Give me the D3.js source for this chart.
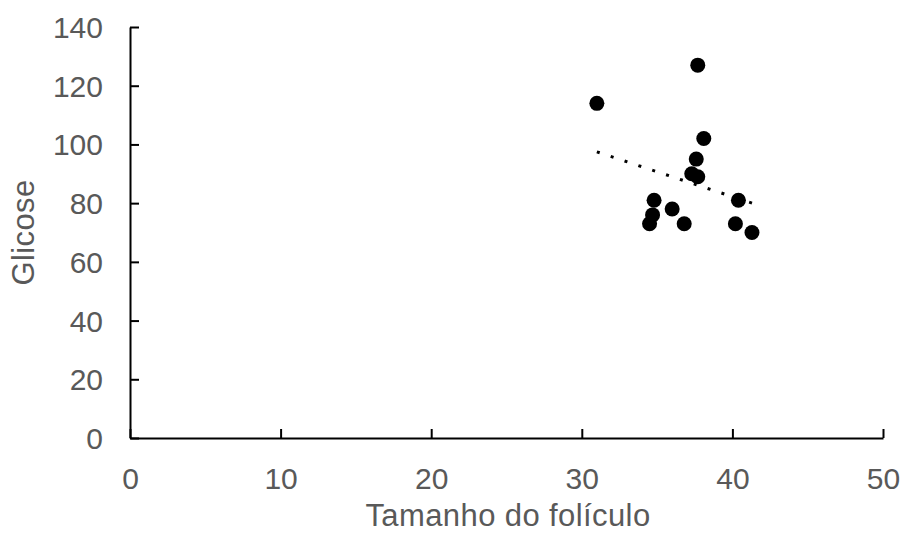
<!DOCTYPE html>
<html>
<head>
<meta charset="utf-8">
<script src="https://cdn.jsdelivr.net/npm/d3@7"></script>
<style>
  body { margin: 0; background: #fff; }
  svg text { font-family: "Liberation Sans", Arial, sans-serif; fill: #595959; }
</style>
</head>
<body>
<svg id="chart"></svg>
<script>
// Données
const tamanho = [37.7, 31.0, 38.1, 37.6, 37.3, 37.7, 34.8, 40.4, 34.7, 36.0, 34.5, 36.8, 40.2, 41.3];
const glicose = [127, 114, 102, 95, 90, 89, 81, 81, 76, 78, 73, 73, 73, 70];
const xTicks = [0, 10, 20, 30, 40, 50];
const yTicks = [0, 20, 40, 60, 80, 100, 120, 140];

const width = 905;
const height = 533;
const margin = { left: 130, right: 22, top: 27, bottom: 95 };

const svg = d3.select("#chart")
    .attr("width", width)
    .attr("height", height);

const x = d3.scaleLinear().domain([0, 50]).range([margin.left, width - margin.right]);
const y = d3.scaleLinear().domain([0, 140]).range([height - margin.bottom, margin.top]);

// Axes (graduations vers l'intérieur, comme Excel)
const xAxis = svg.append("g")
    .attr("transform", `translate(0,${y(0)})`)
    .call(d3.axisBottom(x).tickValues(xTicks).tickSizeInner(-9).tickSizeOuter(0));
const yAxis = svg.append("g")
    .attr("transform", `translate(${x(0)},0)`)
    .call(d3.axisLeft(y).tickValues(yTicks).tickSizeInner(-9).tickSizeOuter(0));

[xAxis, yAxis].forEach(a => {
    a.attr("font-size", null).attr("font-family", null);
    a.select(".domain").attr("stroke", "#000").attr("stroke-width", 2);
    a.selectAll(".tick line").attr("stroke", "#000").attr("stroke-width", 2);
    a.selectAll(".tick text").style("font-size", "30px").attr("fill", "#595959");
});
xAxis.selectAll(".tick text").attr("dy", null).attr("y", 51);
yAxis.selectAll(".tick text").attr("x", -27).attr("dy", "0.35em");

// Points
const data = tamanho.map((t, i) => ({ x: t, y: glicose[i] }));

// Ligne de tendance (régression linéaire), pointillés qui finissent sur un point
const mx = d3.mean(tamanho), my = d3.mean(glicose);
const slope = d3.sum(data, d => (d.x - mx) * (d.y - my)) / d3.sum(data, d => (d.x - mx) ** 2);
const x0 = d3.min(tamanho), x1 = d3.max(tamanho);
const p0 = [x(x0), y(my + slope * (x0 - mx))];
const p1 = [x(x1), y(my + slope * (x1 - mx))];
const len = Math.hypot(p1[0] - p0[0], p1[1] - p0[1]);
const nGaps = Math.round((len - 3) / 15);
const gap = (len - 3) / nGaps - 3;
svg.append("line")
    .attr("x1", p0[0]).attr("y1", p0[1])
    .attr("x2", p1[0]).attr("y2", p1[1])
    .attr("stroke", "#000")
    .attr("stroke-width", 3)
    .attr("stroke-dasharray", `3,${gap}`);

svg.append("g")
    .selectAll("circle")
    .data(data)
    .enter().append("circle")
    .attr("cx", d => x(d.x))
    .attr("cy", d => y(d.y))
    .attr("r", 7.5)
    .attr("fill", "#000");

// Titres des axes
svg.append("text")
    .attr("x", 508)
    .attr("y", 526)
    .attr("text-anchor", "middle")
    .style("font-size", "31px")
    .style("letter-spacing", "0.4px")
    .text("Tamanho do folículo");

svg.append("text")
    .attr("transform", `translate(34,${(y(0) + y(140)) / 2}) rotate(-90)`)
    .attr("text-anchor", "middle")
    .style("font-size", "31px")
    .style("letter-spacing", "0.4px")
    .text("Glicose");
</script>
</body>
</html>
